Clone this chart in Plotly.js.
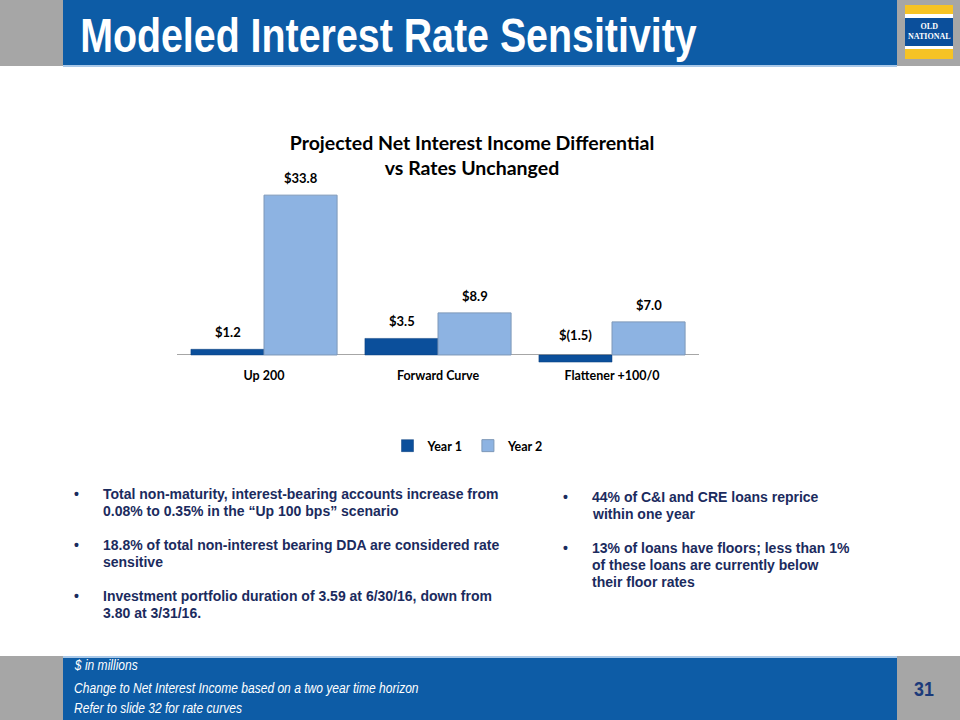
<!DOCTYPE html>
<html>
<head>
<meta charset="utf-8">
<script src="https://cdn.plot.ly/plotly-3.0.1.min.js"></script>
<style>
html,body{margin:0;padding:0;background:#fff;}
#chart{width:960px;height:720px;}
</style>
</head>
<body>
<div id="chart"></div>
<script>
// ---- data ----
const categories = ['Up 200', 'Forward Curve', 'Flattener +100/0'];
const seriesNames = ['Year 1', 'Year 2'];
const year1 = [1.2, 3.5, -1.5];
const year2 = [33.8, 8.9, 7.0];
const labels1 = ['$1.2', '$3.5', '$(1.5)'];
const labels2 = ['$33.8', '$8.9', '$7.0'];

const pageTitle = 'Modeled Interest Rate Sensitivity';
const chartTitle = 'Projected Net Interest Income Differential<br>vs Rates Unchanged';
const leftBullets = [
  ['Total non-maturity, interest-bearing accounts increase from', '0.08% to 0.35% in the \u201cUp 100 bps\u201d scenario'],
  ['18.8% of total non-interest bearing DDA are considered rate', 'sensitive'],
  ['Investment portfolio duration of 3.59 at 6/30/16, down from', '3.80 at 3/31/16.']
];
const rightBullets = [
  ['44% of C&I and CRE loans reprice', 'within one year'],
  ['13% of loans have floors; less than 1%', 'of these loans are currently below', 'their floor rates']
];
const footnotes = ['$ in millions', 'Change to Net Interest Income based on a two year time horizon', 'Refer to slide 32 for rate curves'];
const pageNumber = '31';

// ---- helpers ----
const W = 960, H = 720;
const px = x => x / W;
const py = y => 1 - y / H;
const chartFont = 'Lato, "Open Sans", sans-serif';
const arial = '"Liberation Sans", Arial, sans-serif';
const navy = '#1B2B5E';

const c1 = '#0B4F9B', c2 = '#8DB3E2';

const traces = [
  {type: 'bar', name: seriesNames[0], x: categories, y: year1,
   marker: {color: c1, line: {color: '#0A3F7C', width: 0.5}}, hoverinfo: 'none'},
  {type: 'bar', name: seriesNames[1], x: categories, y: year2,
   marker: {color: c2, line: {color: '#7E98B8', width: 1}}, hoverinfo: 'none'}
];

const annotations = [];
const shapes = [];

// bar value labels
const half = 36.5;
const labelFont = {family: chartFont, size: 13, color: '#000', weight: 'bold'};
categories.forEach((c, i) => {
  annotations.push({xref: 'x', yref: 'y', x: c, y: Math.max(year1[i], 0), xshift: -half, yshift: year1[i] < 0 ? 10 : 7,
    xanchor: 'center', yanchor: 'bottom', showarrow: false, text: labels1[i], font: labelFont});
  annotations.push({xref: 'x', yref: 'y', x: c, y: Math.max(year2[i], 0), xshift: half, yshift: 7,
    xanchor: 'center', yanchor: 'bottom', showarrow: false, text: labels2[i], font: labelFont});
});

// header / footer backgrounds
shapes.push({type: 'rect', xref: 'paper', yref: 'paper', x0: 0, x1: 1, y0: py(66), y1: 1, fillcolor: '#A6A6A6', line: {width: 0}, layer: 'below'});
shapes.push({type: 'rect', xref: 'paper', yref: 'paper', x0: px(63), x1: px(897), y0: py(65), y1: 1, fillcolor: '#0D5CA6', line: {width: 0}, layer: 'below'});
shapes.push({type: 'rect', xref: 'paper', yref: 'paper', x0: px(63), x1: px(897), y0: py(67), y1: py(65), fillcolor: '#A9C8E8', line: {width: 0}, layer: 'below'});
shapes.push({type: 'rect', xref: 'paper', yref: 'paper', x0: 0, x1: 1, y0: 0, y1: py(656), fillcolor: '#A6A6A6', line: {width: 0}, layer: 'below'});
shapes.push({type: 'rect', xref: 'paper', yref: 'paper', x0: px(63), x1: px(897), y0: 0, y1: py(656), fillcolor: '#0D5CA6', line: {width: 0}, layer: 'below'});
shapes.push({type: 'rect', xref: 'paper', yref: 'paper', x0: px(63), x1: px(897), y0: py(658), y1: py(656), fillcolor: '#A9C8E8', line: {width: 0}, layer: 'below'});

// logo
const logoBands = [[5, 14, '#F6C324'], [14, 18, '#FFFFFF'], [18, 46, '#0B4F9B'], [46, 49, '#FFFFFF'], [49, 59, '#F6C324']];
logoBands.forEach(b => shapes.push({type: 'rect', xref: 'paper', yref: 'paper', x0: px(905), x1: px(953), y0: py(b[1]), y1: py(b[0]), fillcolor: b[2], line: {width: 0}, layer: 'below'}));
annotations.push({xref: 'paper', yref: 'paper', x: px(929), y: py(32), xanchor: 'center', yanchor: 'middle', showarrow: false, text: 'OLD<br>NATIONAL',
  font: {family: '"Liberation Serif", "DejaVu Serif", serif', size: 8, color: '#fff', weight: 'bold'}, align: 'center'});

// page title
annotations.push({xref: 'paper', yref: 'paper', x: px(78), y: py(35), xanchor: 'left', yanchor: 'middle', showarrow: false,
  text: pageTitle, font: {family: arial, size: 48, color: '#fff', weight: 'bold'}});

// bullets
const bulletFont = {family: arial, size: 14, color: navy, weight: 'bold'};
function addBullets(list, bx, tx, y0) {
  let y = y0;
  list.forEach(lines => {
    annotations.push({xref: 'paper', yref: 'paper', x: px(bx), y: py(y), xanchor: 'center', yanchor: 'middle', showarrow: false, text: '\u2022', font: bulletFont});
    lines.forEach(l => {
      annotations.push({xref: 'paper', yref: 'paper', x: px(tx), y: py(y), xanchor: 'left', yanchor: 'middle', showarrow: false, text: l, font: bulletFont});
      y += 17;
    });
    y += 17;
  });
}
addBullets(leftBullets, 76, 101, 494);
addBullets(rightBullets, 565, 590, 497);

// footnotes
const footY = [665, 688, 708];
footnotes.forEach((t, i) => annotations.push({xref: 'paper', yref: 'paper', x: px(72), y: py(footY[i]), xanchor: 'left', yanchor: 'middle', showarrow: false,
  text: t, font: {family: arial, size: 14, color: '#fff', style: 'italic'}}));
annotations.push({xref: 'paper', yref: 'paper', x: px(926), y: py(688), xanchor: 'center', yanchor: 'middle', showarrow: false,
  text: pageNumber, font: {family: arial, size: 21, color: '#1B3A7A', weight: 'bold'}});

const layout = {
  width: W, height: H,
  margin: {l: 0, r: 0, t: 0, b: 0},
  paper_bgcolor: '#fff', plot_bgcolor: 'rgba(0,0,0,0)',
  showlegend: true,
  barmode: 'group', bargap: 0.16, bargroupgap: 0,
  title: {text: chartTitle, x: px(472), xanchor: 'center', y: py(150), yanchor: 'top', xref: 'paper', yref: 'paper',
    font: {family: chartFont, size: 19.5, color: '#000', weight: 'bold'}},
  xaxis: {domain: [px(177), px(699)], showgrid: false, showline: false, zeroline: false, ticks: '',
    tickfont: {family: chartFont, size: 12.5, color: '#000', weight: 'bold'}, fixedrange: true},
  yaxis: {domain: [py(366), py(180)], range: [-2.33, 37.0], showgrid: false, showticklabels: false, showline: false,
    zeroline: true, zerolinecolor: '#A6A6A6', zerolinewidth: 1, ticks: '', fixedrange: true},
  legend: {orientation: 'h', x: px(468), xanchor: 'center', y: py(431), yanchor: 'top',
    font: {family: chartFont, size: 12.5, color: '#000', weight: 'bold'}, itemwidth: 30, bgcolor: 'rgba(0,0,0,0)'},
  annotations: annotations,
  shapes: shapes
};

// horizontally condense text that is set in a narrow face in the original (Arial Narrow)
function condense(gd, text, scale) {
  gd.querySelectorAll('text.annotation-text').forEach(t => {
    if (t.textContent === text) {
      const bb = t.getBBox();
      const x0 = bb.x;
      t.setAttribute('transform', 'translate(' + x0 + ',0) scale(' + scale + ',1) translate(' + (-x0) + ',0)');
    }
  });
}

Plotly.newPlot('chart', traces, layout, {staticPlot: true, displayModeBar: false}).then(gd => {
  condense(gd, pageTitle, 0.82);
  footnotes.forEach(t => condense(gd, t, 0.86));
  condense(gd, pageNumber, 0.85);
});
</script>
</body>
</html>
